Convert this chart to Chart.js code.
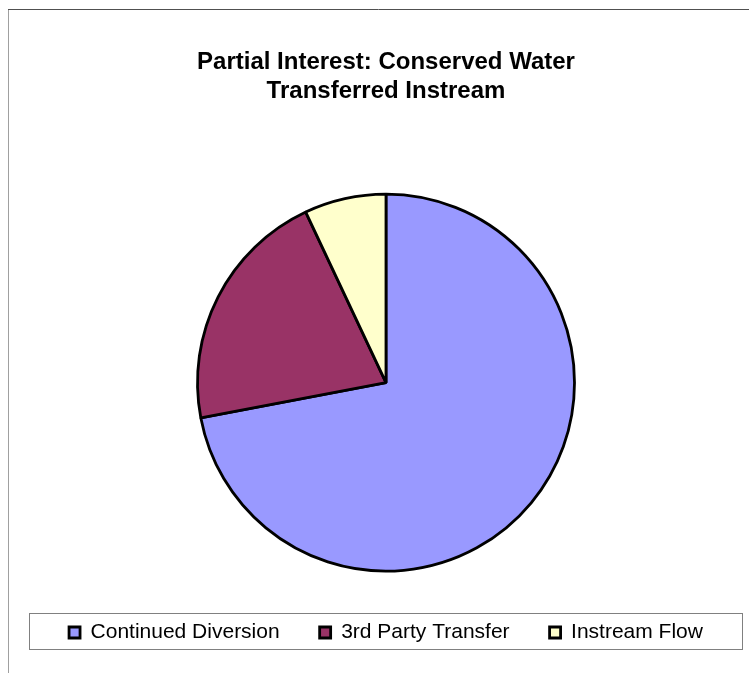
<!DOCTYPE html>
<html>
<head>
<meta charset="utf-8">
<script src="https://cdn.jsdelivr.net/npm/chart.js@4.4.1/dist/chart.umd.min.js"></script>
<style>
  html, body { margin: 0; padding: 0; background: #ffffff; }
  #wrap { width: 749px; height: 673px; position: relative; }
</style>
</head>
<body>
<div id="wrap"><canvas id="c" width="749" height="673"></canvas></div>
<script>
const titleLines = ['Partial Interest: Conserved Water', 'Transferred Instream'];
const categories = ['Continued Diversion', '3rd Party Transfer', 'Instream Flow'];
const shares = [72, 21, 7];
const sliceColors = ['#9999FF', '#993366', '#FFFFCC'];

const framePlugin = {
  id: 'frame',
  beforeDraw(chart) {
    const ctx = chart.ctx;
    ctx.save();
    ctx.fillStyle = '#ffffff';
    ctx.fillRect(0, 0, chart.width, chart.height);
    ctx.lineWidth = 1;
    ctx.strokeStyle = '#a0a0a0';
    ctx.beginPath();
    ctx.moveTo(8.5, 9);
    ctx.lineTo(8.5, chart.height);
    ctx.stroke();
    ctx.strokeStyle = '#505050';
    ctx.beginPath();
    ctx.moveTo(8, 9.5);
    ctx.lineTo(chart.width, 9.5);
    ctx.stroke();
    ctx.restore();
  },
  afterDraw(chart) {
    const ctx = chart.ctx;
    ctx.save();
    ctx.lineWidth = 1;
    ctx.strokeStyle = '#808080';
    ctx.strokeRect(29.5, 613.5, 713, 36);
    ctx.restore();
  }
};

new Chart(document.getElementById('c'), {
  type: 'pie',
  data: {
    labels: categories,
    datasets: [{
      data: shares,
      backgroundColor: sliceColors,
      borderColor: '#000000',
      borderWidth: 2.8,
      radius: 188.5
    }]
  },
  options: {
    responsive: false,
    animation: false,
    layout: { padding: { left: 23, right: 0, top: 0, bottom: 20 } },
    plugins: {
      title: {
        display: true,
        text: titleLines,
        color: '#000000',
        font: { family: '"Liberation Sans", Arial, sans-serif', size: 24, weight: 'bold', lineHeight: 1.22 },
        padding: { top: 47.5, bottom: 77.2 }
      },
      legend: {
        position: 'bottom',
        labels: {
          color: '#000000',
          boxWidth: 11,
          boxHeight: 11,
          padding: 40,
          font: { family: '"Liberation Sans", Arial, sans-serif', size: 21 }
        }
      },
      tooltip: { enabled: false }
    }
  },
  plugins: [framePlugin]
});
</script>
</body>
</html>
